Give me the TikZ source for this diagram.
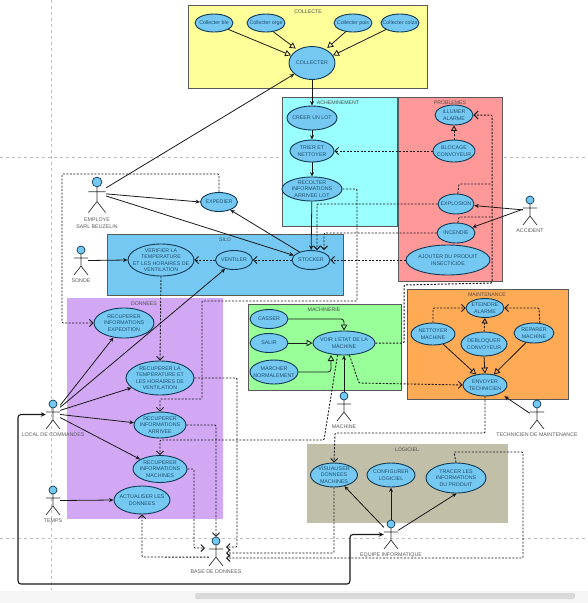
\documentclass[tikz,border=0pt]{standalone}
\usepackage{fontspec}
\setmainfont{Liberation Sans}
\usepackage{tikz}
\usetikzlibrary{arrows.meta,shapes.geometric,positioning}
\definecolor{ucfill}{HTML}{74C8F2}
\definecolor{ucline}{HTML}{0F3A55}
\definecolor{uctxt}{HTML}{1F5070}
\definecolor{zoneyellow}{HTML}{FFFF99}
\definecolor{zonecyan}{HTML}{99FFFF}
\definecolor{zonered}{HTML}{FF9999}
\definecolor{zoneviolet}{HTML}{D2A8F5}
\definecolor{zonegreen}{HTML}{99FF99}
\definecolor{zoneorange}{HTML}{FFAA55}
\definecolor{zonekhaki}{HTML}{C2BFA8}
\tikzstyle{arrow} = [color=black!90,line width=0.8pt,-{Stealth[length=4.5pt,width=4pt]}]
\tikzstyle{inherit} = [color=black!90,line width=0.8pt,-{Triangle[open,length=6pt,width=6.5pt]}]
\tikzstyle{dep} = [color=black!90,line width=0.9pt,dash pattern=on 2pt off 1.5pt,rounded corners=1pt,-{Straight Barb[length=3.5pt,width=7pt]}]
\tikzstyle{dephollow} = [dep,-{Triangle[open,length=5.5pt,width=6pt]}]
\tikzstyle{bigarrow} = [color=black!90,line width=1.1pt,rounded corners=3pt,{Stealth[length=5pt,width=4.5pt]}-{Stealth[length=5pt,width=4.5pt]}]
\tikzstyle{zone} = [rectangle,anchor=north west,draw=black!65,line width=0.9pt,inner sep=0pt]
\tikzstyle{zonetitle} = [font=\fontsize{5.2}{6}\selectfont,text=black!70,inner sep=0pt]
\tikzstyle{usecase} = [ellipse,draw=ucline,fill=ucfill,line width=0.9pt,inner sep=0pt]
\tikzstyle{uctext} = [font=\fontsize{5.3}{6.4}\selectfont,text=uctxt,align=center,inner sep=0pt]
\tikzstyle{actorbox} = [rectangle,minimum width=14,inner sep=0pt]
\tikzstyle{actortext} = [font=\fontsize{5.3}{6.6}\selectfont,text=black!65,align=center,inner sep=1pt,yshift=-2pt]
\tikzset{
    stickman/.pic={
        \draw [color=black!80,line width=0.7pt] (0,4) -- (0,16) (-7,8) -- (7,8) (-7,25) -- (0,16) -- (7,25);
        \draw [draw=ucline,fill=ucfill,line width=0.7pt] (0,0) circle (4);
    }
}
\begin{document}
\begin{tikzpicture}[x=1pt,y=-1pt]
    \useasboundingbox (0,0) rectangle (588,603);
    \fill [white] (0,0) rectangle (588,603);

    \draw [black!25,dashed,line width=0.5pt] (0,157) -- (588,157);
    \draw [black!25,dashed,line width=0.5pt] (0,538) -- (588,538);
    \draw [black!25,dashed,line width=0.5pt] (51,0) -- (51,590);
    \fill [black!4] (0,591) rectangle (588,603);
    \fill [black!15,rounded corners=2pt] (195,593) rectangle (575,599);

    \node [zone,fill=zoneyellow,minimum width=239,minimum height=83] (collecte) at (188,5) {};
    \node [zone,fill=zonecyan,minimum width=115,minimum height=129] (acheminement) at (282,97) {};
    \node [zone,fill=zonered,minimum width=104,minimum height=184] (problemes) at (398,97) {};
    \node [zone,fill=ucfill,minimum width=236,minimum height=61] (silo) at (107,234) {};
    \node [zone,fill=zoneviolet,draw=none,minimum width=156,minimum height=221] (donnees) at (67,298) {};
    \node [zone,fill=zonegreen,minimum width=153,minimum height=86] (machinerie) at (248,304) {};
    \node [zone,fill=zoneorange,minimum width=161,minimum height=110] (maintenance) at (407,289) {};
    \node [zone,fill=zonekhaki,draw=none,minimum width=201,minimum height=79] (logiciel) at (307,444) {};

    \node [zonetitle] (titrecollecte) at (308,12) {COLLECTE};
    \node [zonetitle] (titreacheminement) at (338,103) {ACHEMINEMENT};
    \node [zonetitle] (titreproblemes) at (450,103) {PROBLEMES};
    \node [zonetitle] (titresilo) at (225,240) {SILO};
    \node [zonetitle] (titredonnees) at (144,304) {DONNEES};
    \node [zonetitle] (titremachinerie) at (324,310) {MACHINERIE};
    \node [zonetitle] (titremaintenance) at (487,295) {MAINTENANCE};
    \node [zonetitle] (titrelogiciel) at (407,450) {LOGICIEL};

    \node [usecase,minimum width=38,minimum height=18,label={[uctext]center:Collecter ble}] (ble) at (214,23) {};
    \node [usecase,minimum width=38,minimum height=18,label={[uctext]center:Collecter orge}] (orge) at (266,23) {};
    \node [usecase,minimum width=38,minimum height=18,label={[uctext]center:Collecter pois}] (pois) at (353,23) {};
    \node [usecase,minimum width=38,minimum height=18,label={[uctext]center:Collecter colza}] (colza) at (400,23) {};
    \node [usecase,minimum width=46,minimum height=33,label={[uctext]center:COLLECTER}] (collecter) at (312,63) {};
    \node [usecase,minimum width=50,minimum height=24,label={[uctext]center:CREER UN LOT}] (creer) at (312,118) {};
    \node [usecase,minimum width=44,minimum height=22,label={[uctext]center:{TRIER ET\\NETTOYER}}] (trier) at (312,151) {};
    \node [usecase,minimum width=60,minimum height=24,label={[uctext]center:{RECOLTER\\INFORMATIONS\\ARRIVEE LOT}}] (recolter) at (312,189) {};
    \node [usecase,minimum width=38,minimum height=20,label={[uctext]center:{ILLUMER\\ALARME}}] (illumer) at (454,115) {};
    \node [usecase,minimum width=42,minimum height=22,label={[uctext]center:{BLOCAGE\\CONVOYEUR}}] (blocage) at (454,151) {};
    \node [usecase,minimum width=36,minimum height=20,label={[uctext]center:EXPLOSION}] (explosion) at (456,204) {};
    \node [usecase,minimum width=38,minimum height=20,label={[uctext]center:INCENDIE}] (incendie) at (456,233) {};
    \node [usecase,minimum width=84,minimum height=30,label={[uctext]center:{AJOUTER DU PRODUIT\\INSECTICIDE}}] (ajouter) at (448,260) {};
    \node [usecase,minimum width=38,minimum height=19,label={[uctext]center:STOCKER}] (stocker) at (311,260) {};
    \node [usecase,minimum width=37,minimum height=19,label={[uctext]center:EXPEDIER}] (expedier) at (219,202) {};
    \node [usecase,minimum width=66,minimum height=32,label={[uctext]center:{VERIFIER LA\\TEMPERATURE\\ET LES HORAIRES DE\\VENTILATION}}] (verifier) at (161,260) {};
    \node [usecase,minimum width=37,minimum height=19,label={[uctext]center:VENTILER}] (ventiler) at (234,260) {};
    \node [usecase,minimum width=60,minimum height=30,label={[uctext]center:{RECUPERER\\INFORMATIONS\\EXPEDITION}}] (infoexpedition) at (124,323) {};
    \node [usecase,minimum width=68,minimum height=34,label={[uctext]center:{RECUPERER LA\\TEMPERATURE ET\\LES HORAIRES DE\\VENTILATION}}] (infotemperature) at (160,378) {};
    \node [usecase,minimum width=52,minimum height=26,label={[uctext]center:{RECUPERER\\INFORMATIONS\\ARRIVEE}}] (infoarrivee) at (160,425) {};
    \node [usecase,minimum width=54,minimum height=27,label={[uctext]center:{RECUPERER\\INFORMATIONS\\MACHINES}}] (infomachines) at (160,469) {};
    \node [usecase,minimum width=56,minimum height=28,label={[uctext]center:{ACTUALISER LES\\DONNEES}}] (actualiser) at (142,500) {};
    \node [usecase,minimum width=38,minimum height=19,label={[uctext]center:CASSER}] (casser) at (269,319) {};
    \node [usecase,minimum width=38,minimum height=19,label={[uctext]center:SALIR}] (salir) at (269,343) {};
    \node [usecase,minimum width=48,minimum height=24,label={[uctext]center:{MARCHER\\NORMALEMENT}}] (marcher) at (274,372) {};
    \node [usecase,minimum width=62,minimum height=24,label={[uctext]center:{VOIR L'ETAT DE LA\\MACHINE}}] (voir) at (344,343) {};
    \node [usecase,minimum width=38,minimum height=19,label={[uctext]center:{ETEINDRE\\ALARME}}] (eteindre) at (485,308) {};
    \node [usecase,minimum width=44,minimum height=22,label={[uctext]center:{NETTOYER\\MACHINE}}] (nettoyer) at (433,334) {};
    \node [usecase,minimum width=46,minimum height=24,label={[uctext]center:{DEBLOQUER\\CONVOYEUR}}] (debloquer) at (484,344) {};
    \node [usecase,minimum width=40,minimum height=20,label={[uctext]center:{REPARER\\MACHINE}}] (reparer) at (534,333) {};
    \node [usecase,minimum width=44,minimum height=22,label={[uctext]center:{ENVOYER\\TECHNICIEN}}] (envoyer) at (485,385) {};
    \node [usecase,minimum width=47,minimum height=24,label={[uctext]center:{VISUALISER\\DONNEES\\MACHINES}}] (visualiser) at (334,475) {};
    \node [usecase,minimum width=48,minimum height=24,label={[uctext]center:{CONFIGURER\\LOGICIEL}}] (configurer) at (391,475) {};
    \node [usecase,minimum width=60,minimum height=30,label={[uctext]center:{TRACER LES\\INFORMATIONS\\DU PRODUIT}}] (tracer) at (456,478) {};

    \pic [scale=1.22] at (97,182) {stickman};
    \pic at (81,250) {stickman};
    \pic at (53,404) {stickman};
    \pic at (53,490) {stickman};
    \pic at (216,541) {stickman};
    \pic at (344,396) {stickman};
    \pic at (537,404) {stickman};
    \pic at (530,200) {stickman};
    \pic at (391,524) {stickman};
    \node [actorbox,minimum width=18,minimum height=36,label={[actortext,yshift=-1pt]below:{EMPLOYE\\SARL BEUZELIN}}] (employe) at (97,195.5) {};
    \node [actorbox,minimum height=29,label={[actortext]below:SONDE}] (sonde) at (81,260.5) {};
    \node [actorbox,minimum height=29,label={[actortext]below:LOCAL DE COMMANDES}] (local) at (53,414.5) {};
    \node [actorbox,minimum height=29,label={[actortext]below:TEMPS}] (temps) at (53,500.5) {};
    \node [actorbox,minimum height=29,label={[actortext]below:BASE DE DONNEES}] (base) at (216,551.5) {};
    \node [actorbox,minimum height=29,label={[actortext]below:MACHINE}] (machine) at (344,406.5) {};
    \node [actorbox,minimum height=29,label={[actortext]below:TECHNICIEN DE MAINTENANCE}] (technicien) at (537,414.5) {};
    \node [actorbox,minimum height=29,label={[actortext]below:ACCIDENT}] (accident) at (530,210.5) {};
    \node [actorbox,minimum height=29,label={[actortext]below:EQUIPE INFORMATIQUE}] (equipe) at (391,534.5) {};

    \draw [inherit] (ble.-24) -- (collecter.160);
    \draw [inherit,shorten >=2pt] (orge.-50) -- (collecter.138);
    \draw [inherit,shorten >=2pt] (pois.230) -- (collecter.45);
    \draw [inherit] (colza.205) -- (collecter.20);
    \draw [arrow] (collecter) -- (creer);
    \draw [arrow] (creer) -- (trier);
    \draw [arrow] (trier) -- (recolter);
    \draw [arrow] (recolter) -- (stocker);
    \draw [arrow] (employe.40) -- (collecter.212);
    \draw [arrow] (employe.10) -- (expedier.west);
    \draw [arrow] (employe.-3) -- (stocker.165);
    \draw [arrow] (stocker.145) -- (expedier.-35);
    \draw [arrow] (sonde.east) -- (verifier.west);
    \draw [arrow] (local.52) -- (infoexpedition.234);
    \draw [arrow] (local.45) -- (ventiler.225);
    \draw [arrow] (local.30) -- (infotemperature.199);
    \draw [arrow] (local.east) -- (infoarrivee.175);
    \draw [arrow] (local.-23) -- (infomachines.154);
    \draw [arrow] (temps.east) -- (actualiser.west);
    \draw [arrow] (accident.175) -- (explosion.-5);
    \draw [arrow] (accident.170) -- (incendie.19);
    \draw [arrow] (machine.north) -- (voir.south);
    \draw [arrow,shorten >=5pt] (technicien.170) -- (envoyer.-29);
    \draw [arrow] (equipe.135) -- (visualiser.-47);
    \draw [arrow] (equipe.north) -- (configurer.south);
    \draw [arrow] (equipe.30) -- (tracer.-88);
    \draw [inherit,rounded corners=3pt] (casser.east) -- (344,319) -- (voir.north);
    \draw [inherit] (salir.east) -- (voir.west);
    \draw [inherit,rounded corners=3pt] (marcher.east) -- (331,372) -- (331,355);
    \draw [inherit] (nettoyer.-45) -- (envoyer.130);
    \draw [inherit] (debloquer.south) -- (envoyer.north);
    \draw [inherit] (reparer.230) -- (envoyer.50);
    \draw [bigarrow] (local.west) -- (18,414.5) -- (18,584) -- (350,584) -- (350,534.5) -- (equipe.west);

    \draw [dephollow] (blocage.north) -- (illumer.south);
    \draw [dep] (blocage.west) -- (trier.east);
    \draw [dep] (recolter.east) -- (357,189) -- (357,301) -- (202,301) -- (202,399) -- (160,399) -- (infoarrivee.north);
    \draw [dep] (explosion.west) -- (317,204) -- (317,250);
    \draw [dep] (incendie.west) -- (324,233) -- (324,250);
    \draw [dep] (ajouter.west) -- (stocker.east);
    \draw [dep] (stocker.west) -- (ventiler.east);
    \draw [dep] (ventiler.west) -- (verifier.east);
    \draw [dep] (verifier.south) -- (infotemperature.north);
    \draw [dep] (expedier.north) -- (219,174) -- (62,174) -- (62,323) -- (infoexpedition.west);
    \draw [dep] (infotemperature.east) -- (237,378) -- (237,547) -- (226,547);
    \draw [dep] (infoarrivee.east) -- (216,425) -- (base.north);
    \draw [dep] (infomachines.east) -- (194,469) -- (194,548) -- (205,548);
    \draw [dep] (base.-142) -- (142,557) -- (actualiser.south);
    \draw [dep] (voir.-118) -- (324,440) -- (160,440) -- (infomachines.north);
    \draw [dep] (voir.-66) -- (359,383) -- (envoyer.west);
    \draw [dep,line width=1pt,-{Straight Barb[length=4pt,width=8pt]}] (voir.east) -- (404,343) -- (404,285) -- (492,283) -- (492,115) -- (illumer.east);
    \draw [dep,-] (explosion.80) -- (459,184) -- (492,184);
    \draw [dep,-] (incendie.80) -- (459,217) -- (492,217);
    \draw [dep] (envoyer.south) -- (485,433) -- (335,433) -- (visualiser.north);
    \draw [dep] (visualiser.south) -- (334,553) -- (226,553);
    \draw [dep] (tracer.north) -- (454,452) -- (523,452) -- (523,558) -- (226,558);
    \draw [dep] (nettoyer.north) -- (433,308) -- (eteindre.west);
    \draw [dep] (reparer.60) -- (539,308) -- (eteindre.east);
    \draw [dephollow] (debloquer.north) -- (eteindre.south);
\end{tikzpicture}
\end{document}
